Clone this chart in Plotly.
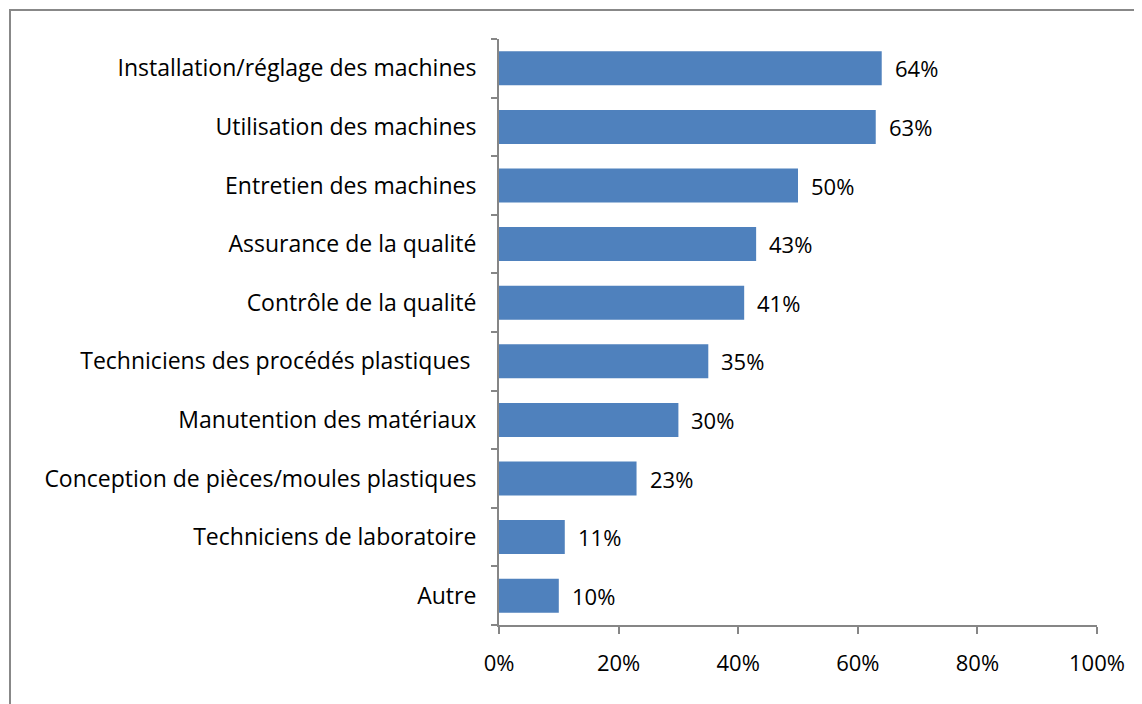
import plotly.graph_objects as go

categories = [
    "Installation/réglage des machines",
    "Utilisation des machines",
    "Entretien des machines",
    "Assurance de la qualité",
    "Contrôle de la qualité",
    "Techniciens des procédés plastiques ",
    "Manutention des matériaux",
    "Conception de pièces/moules plastiques",
    "Techniciens de laboratoire",
    "Autre",
]
values = [0.64, 0.63, 0.50, 0.43, 0.41, 0.35, 0.30, 0.23, 0.11, 0.10]
labels = [f"{round(v*100)}%" for v in values]
x_ticks = [0, 0.2, 0.4, 0.6, 0.8, 1.0]
x_tick_text = ["0%", "20%", "40%", "60%", "80%", "100%"]

font_family = "'Open Sans', sans-serif"
cat_size = 23
num_size = 22

fig = go.Figure(go.Bar(
    y=categories[::-1],
    x=values[::-1],
    orientation="h",
    marker=dict(color="#4F81BD", line=dict(color="#4F81BD", width=0)),
    cliponaxis=False,
))

for c, v, t in zip(categories, values, labels):
    fig.add_annotation(
        x=v, y=c, text=t, showarrow=False,
        xanchor="left", yanchor="middle", xshift=11,
        font=dict(size=num_size, family=font_family, color="#000000"),
    )

# page body has an 8px default margin, so offsets are compensated
W, H = 1142, 704
off = 8
ml, mt = 499 - off, 39 - off
mr = W - (1097 - off)
mb = H - (625 - off)
pw, ph = W - ml - mr, H - mt - mb

fig.update_layout(
    width=W, height=H,
    margin=dict(l=ml, r=mr, t=mt, b=mb, autoexpand=False),
    paper_bgcolor="white",
    plot_bgcolor="white",
    bargap=0.42,
    showlegend=False,
    font=dict(family=font_family, size=cat_size, color="#000000"),
    xaxis=dict(
        range=[0, 1.0],
        tickvals=x_ticks,
        ticktext=x_tick_text,
        showgrid=False,
        zeroline=False,
        showline=True,
        linecolor="#868686",
        linewidth=2,
        ticks="outside",
        ticklen=7,
        tickwidth=2,
        tickcolor="#868686",
        ticklabelstandoff=11,
        tickfont=dict(size=num_size, family=font_family, color="#000000"),
    ),
    yaxis=dict(
        showgrid=False,
        zeroline=False,
        showline=True,
        linecolor="#868686",
        linewidth=2,
        ticks="outside",
        ticklen=6,
        tickwidth=2,
        tickcolor="#868686",
        tickson="boundaries",
        ticklabelstandoff=16,
        tickfont=dict(size=cat_size, family=font_family, color="#000000"),
    ),
    shapes=[dict(
        type="rect", xref="paper", yref="paper",
        x0=(10 - off - ml) / pw, x1=(W + 20 - ml) / pw,
        y0=-(H + 20 - (H - mb)) / ph, y1=1 + (mt - (10 - off)) / ph,
        line=dict(color="#888888", width=2), fillcolor="rgba(0,0,0,0)",
        layer="below",
    )],
)

fig.write_html("out.html")
